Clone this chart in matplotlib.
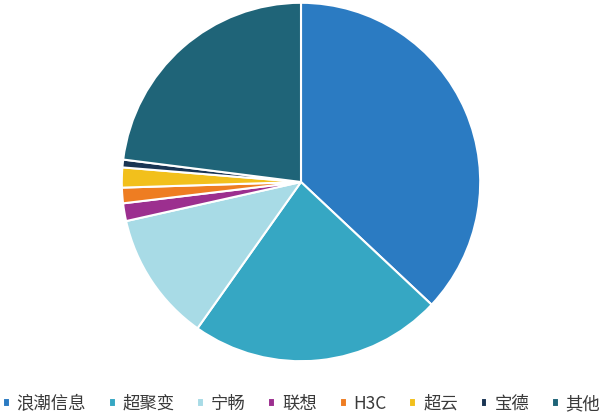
import matplotlib.pyplot as plt

plt.rcParams['font.family'] = ['Noto Sans CJK SC', 'DejaVu Sans']

labels = ['浪潮信息', '超聚变', '宁畅', '联想', 'H3C', '超云', '宝德', '其他']
shares = [37.0, 22.8, 11.7, 1.6, 1.4, 1.8, 0.7, 23.0]
colors = ['#2b7bc2', '#36a7c3', '#a8dbe6', '#9c2f8f', '#ee7d22',
          '#f2c01c', '#1a3553', '#1f6478']

fig = plt.figure(figsize=(6.03, 4.18), dpi=100)
ax = fig.add_axes([(301 - 181) / 603, (418 - 182 - 181) / 418, 362 / 603, 362 / 418])
wedges, _ = ax.pie(shares, colors=colors, startangle=90, counterclock=False,
                   wedgeprops=dict(edgecolor='white', linewidth=1.5))
ax.set_xlim(-1.01, 1.01)
ax.set_ylim(-1.01, 1.01)
ax.set_aspect('equal')

fig.legend(wedges, labels, loc='center', bbox_to_anchor=(0.5, 1 - 404 / 418),
           ncol=8, frameon=False, fontsize=12.5, handlelength=0.4, handleheight=0.4,
           handletextpad=0.4, columnspacing=1.3, labelcolor='#3a3a3a')

fig.savefig('out.png', dpi=100)
